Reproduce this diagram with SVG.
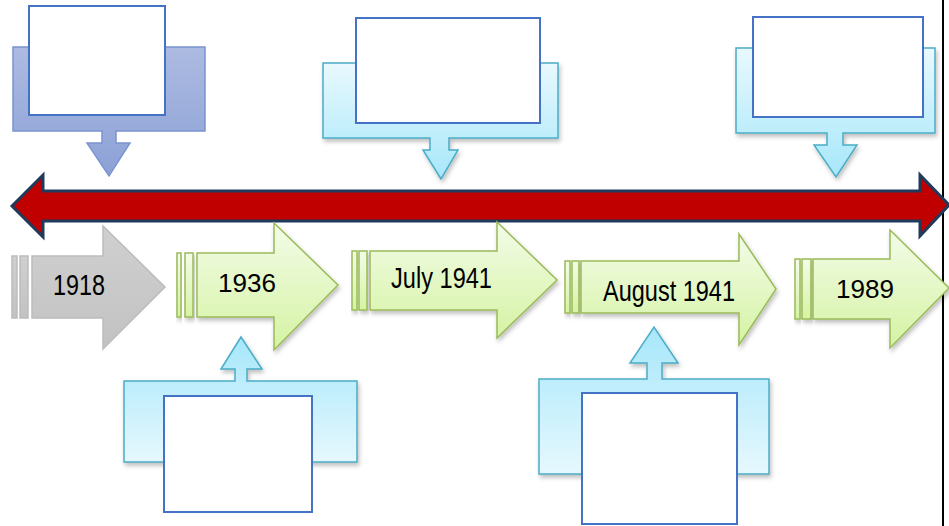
<svg xmlns="http://www.w3.org/2000/svg" width="949" height="526" viewBox="0 0 949 526">
  <defs>
    <linearGradient id="gPurple" x1="0" y1="0" x2="0" y2="1">
      <stop offset="0" stop-color="#adbbe2"/>
      <stop offset="1" stop-color="#8ca1d6"/>
    </linearGradient>
    <linearGradient id="gBlueDown" x1="0" y1="0" x2="0" y2="1">
      <stop offset="0" stop-color="#e9f9fe"/>
      <stop offset="1" stop-color="#a6e7fa"/>
    </linearGradient>
    <linearGradient id="gBlueUp" x1="0" y1="0" x2="0" y2="1">
      <stop offset="0" stop-color="#a6e7fa"/>
      <stop offset="1" stop-color="#e6f8fe"/>
    </linearGradient>
    <linearGradient id="gGreen" x1="0" y1="0" x2="0" y2="1">
      <stop offset="0" stop-color="#f3fce8"/>
      <stop offset="1" stop-color="#d5f3a3"/>
    </linearGradient>
    <linearGradient id="gGray" x1="0" y1="0" x2="0" y2="1">
      <stop offset="0" stop-color="#d0d0d0"/>
      <stop offset="1" stop-color="#c2c2c2"/>
    </linearGradient>
    <filter id="shadow" x="-10%" y="-10%" width="125%" height="130%">
      <feDropShadow dx="1.5" dy="3" stdDeviation="2" flood-color="#000" flood-opacity="0.25"/>
    </filter>
  </defs>
  <style>
    .purple { fill: url(#gPurple); stroke: #7b93d0; stroke-width: 1.5; }
    .bdown { fill: url(#gBlueDown); stroke: #4bacc6; stroke-width: 1.5; filter: url(#shadow); }
    .bup { fill: url(#gBlueUp); stroke: #4bacc6; stroke-width: 1.5; filter: url(#shadow); }
    .box { fill: #ffffff; stroke: #4472c4; stroke-width: 2; }
    .green { fill: url(#gGreen); stroke: #9bbb59; stroke-width: 1.5; filter: url(#shadow); }
    .gray { fill: url(#gGray); stroke: #bcbcbc; stroke-width: 1.5; }
    .timeline { fill: #c00000; stroke: #1f3a5a; stroke-width: 3; stroke-linejoin: miter; }
    .lbl { font-family: "Liberation Sans Narrow", "Liberation Sans", Arial, sans-serif; font-size: 30px; fill: #000; text-anchor: start; }
    .lbl2 { font-family: "Liberation Sans", Arial, sans-serif; font-size: 26px; fill: #000; text-anchor: start; }
  </style>

  <line x1="943" y1="0" x2="943" y2="526" stroke="#000" stroke-width="2"/>

  <g id="connectors">
    <polygon class="timeline" points="12,206 43,175 43,191 920,191 920,175 949,205 920,236 920,221 43,221 43,237"/>
  </g>

  <!-- top callouts -->
  <g id="callout-top-1">
    <polygon class="purple" points="13,47 205,47 205,131 116,131 116,143 130,143 109,176 87,143 102,143 102,131 13,131"/>
    <rect class="box" x="29" y="6" width="136" height="109"/>
  </g>
  <g id="callout-top-2">
    <polygon class="bdown" points="323,63 558,63 558,138 449,138 449,150 458,150 441,179 423,150 430,150 430,138 323,138"/>
    <rect class="box" x="356" y="18" width="184" height="105"/>
  </g>
  <g id="callout-top-3">
    <polygon class="bdown" points="736,48 935,48 935,133 843,133 843,145 857,145 836,177 814,145 827,145 827,133 736,133"/>
    <rect class="box" x="753" y="17" width="170" height="100"/>
  </g>

  <!-- timeline arrows -->
  <g id="node-1918">
    <rect class="gray" x="12" y="256" width="5" height="62"/>
    <rect class="gray" x="20" y="256" width="8" height="62"/>
    <polygon class="gray" points="32,256 103,256 103,226 165,287 103,349 103,318 32,318"/>
    <text class="lbl" x="53" y="295" textLength="52" lengthAdjust="spacingAndGlyphs">1918</text>
  </g>
  <g id="node-1936">
    <rect class="green" x="177" y="253" width="4" height="64"/>
    <rect class="green" x="185" y="253" width="8" height="64"/>
    <polygon class="green" points="197,253 274,253 274,223 338,285 274,350 274,317 197,317"/>
    <text class="lbl2" x="218" y="292" textLength="58" lengthAdjust="spacingAndGlyphs">1936</text>
  </g>
  <g id="node-july-1941">
    <rect class="green" x="352" y="251" width="5" height="59"/>
    <rect class="green" x="359" y="251" width="8" height="59"/>
    <polygon class="green" points="370,251 497,251 497,222 557,280 497,338 497,310 370,310"/>
    <text class="lbl" x="391" y="288" textLength="101" lengthAdjust="spacingAndGlyphs">July 1941</text>
  </g>
  <g id="node-august-1941">
    <rect class="green" x="565" y="261" width="5" height="52"/>
    <rect class="green" x="572" y="261" width="7" height="52"/>
    <polygon class="green" points="581,261 739,261 739,234 776,289 739,345 739,313 581,313"/>
    <text class="lbl" x="603" y="301" textLength="132" lengthAdjust="spacingAndGlyphs">August 1941</text>
  </g>
  <g id="node-1989">
    <rect class="green" x="795" y="259" width="5" height="60"/>
    <rect class="green" x="802" y="259" width="9" height="60"/>
    <polygon class="green" points="813,259 890,259 890,230 949,288 890,348 890,319 813,319"/>
    <text class="lbl2" x="836" y="298" textLength="58" lengthAdjust="spacingAndGlyphs">1989</text>
  </g>

  <!-- bottom callouts -->
  <g id="callout-bottom-1">
    <polygon class="bup" points="124,381 235,381 235,369 221,369 241,337 262,369 247,369 247,381 357,381 357,462 124,462"/>
    <rect class="box" x="164" y="396" width="148" height="116"/>
  </g>
  <g id="callout-bottom-2">
    <polygon class="bup" points="539,379 647,379 647,363 630,363 654,327 678,363 662,363 662,379 769,379 769,474 539,474"/>
    <rect class="box" x="582" y="393" width="155" height="131"/>
  </g>
</svg>
